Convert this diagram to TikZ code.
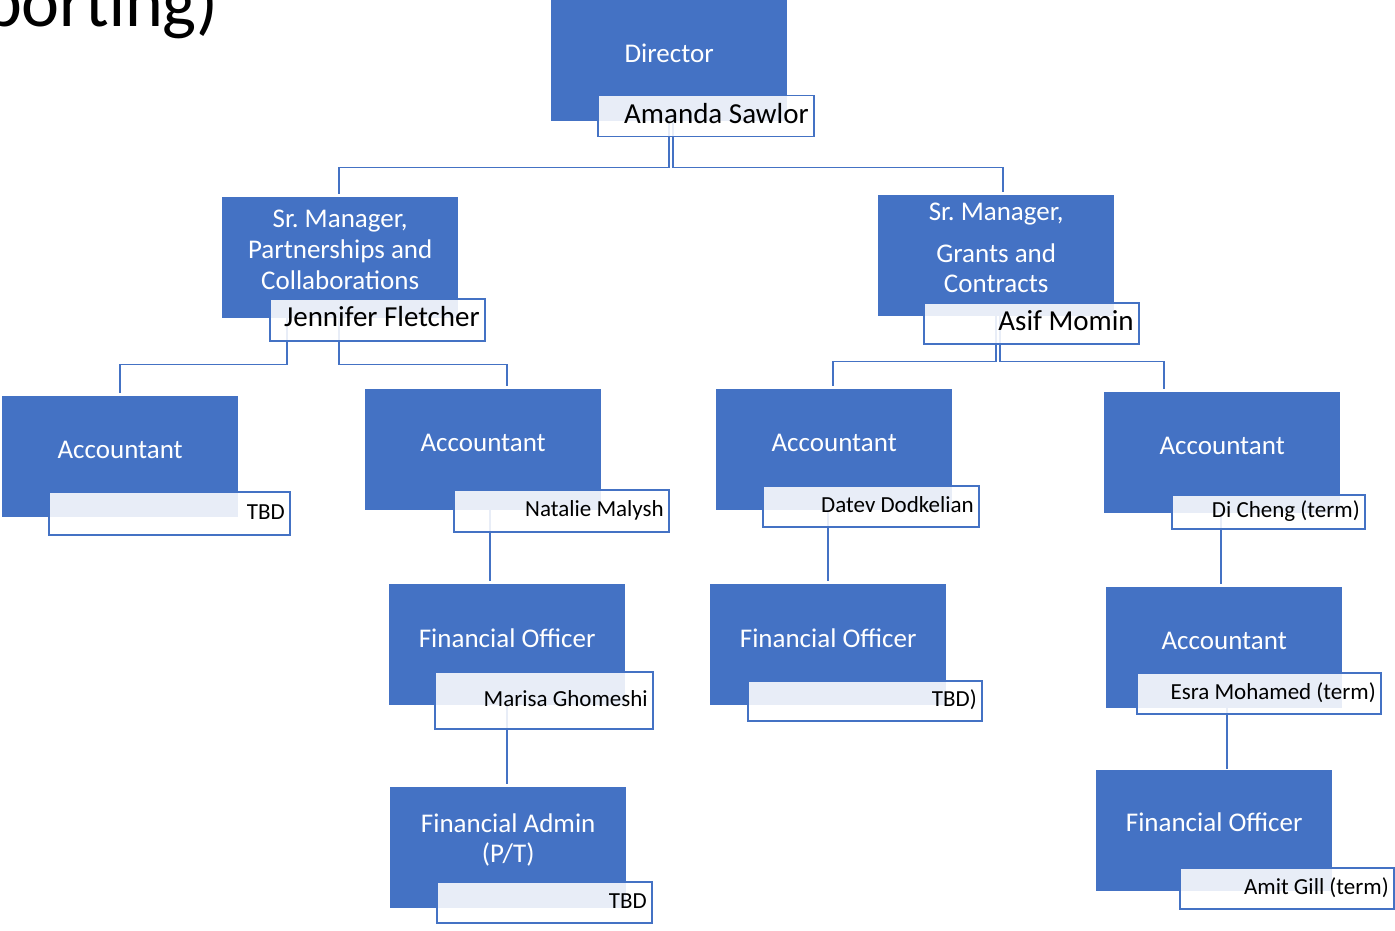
\documentclass[tikz,border=0pt]{standalone}
\usepackage{fontspec}
\setmainfont{Carlito}
\frenchspacing
\definecolor{sblue}{HTML}{4472C4}
\pgfdeclarelayer{bg}
\pgfdeclarelayer{lines}
\pgfsetlayers{bg,lines,main}
\tikzset{
  rolebox/.style={fill=sblue, draw=none, minimum width=236pt, minimum height=121pt, anchor=north west, inner sep=0pt},
  roletext/.style={text=white, font=\fontsize{27}{30}\selectfont, align=center, inner sep=0pt},
  namebox/.style={draw=sblue, line width=1.5pt, fill=white, fill opacity=0.88, text opacity=1, anchor=north west, inner xsep=5pt, inner ysep=0pt, align=flush right, text height=16pt, text depth=4pt, font=\fontsize{23}{26}\selectfont},
  bigname/.style={font=\fontsize{29}{32}\selectfont, text height=19pt, text depth=5.4pt},
  link/.style={draw=sblue, line width=1.5pt, shorten >=3pt},
}
\begin{document}
\begin{tikzpicture}[x=1pt,y=-1pt]
\begin{pgfonlayer}{bg}
\fill[white] (0,0) rectangle (1395,931);
\end{pgfonlayer}
\useasboundingbox (0,0) rectangle (1395,931);

% title fragment
\node[anchor=base west, font=\fontsize{72}{80}\selectfont, inner sep=0pt] (title) at (-16,27) {porting)};

% blue role boxes
\node[rolebox] (dir)  at (551,0) {};
\node[rolebox] (mgrL) at (222,197) {};
\node[rolebox] (mgrR) at (878,195) {};
\node[rolebox] (acc1) at (2,396) {};
\node[rolebox] (acc2) at (365,389) {};
\node[rolebox] (acc3) at (716,389) {};
\node[rolebox] (acc4) at (1104,392) {};
\node[rolebox] (fo1)  at (389,584) {};
\node[rolebox] (fo2)  at (710,584) {};
\node[rolebox] (acc5) at (1106,587) {};
\node[rolebox] (fo3)  at (1096,770) {};
\node[rolebox] (fa)   at (390,787) {};

% role texts
\node[roletext] (dirT)  at ([yshift=7pt]dir.center) {Director};
\node[roletext] (mgrLT) at ([yshift=7.5pt]mgrL.center) {Sr. Manager,\\[1pt]Partnerships and\\[1pt]Collaborations};
\node[roletext] (mgrRT) at ([yshift=7.5pt]mgrR.center) {Sr. Manager,\\[12pt]Grants and\\Contracts};
\node[roletext] (acc1T) at ([yshift=6.5pt]acc1.center) {Accountant};
\node[roletext] (acc2T) at ([yshift=6.5pt]acc2.center) {Accountant};
\node[roletext] (acc3T) at ([yshift=6.5pt]acc3.center) {Accountant};
\node[roletext] (acc4T) at ([yshift=6.5pt]acc4.center) {Accountant};
\node[roletext] (fo1T)  at ([yshift=6.5pt]fo1.center) {Financial Officer};
\node[roletext] (fo2T)  at ([yshift=6.5pt]fo2.center) {Financial Officer};
\node[roletext] (acc5T) at ([yshift=7pt]acc5.center) {Accountant};
\node[roletext] (fo3T)  at ([yshift=8pt]fo3.center) {Financial Officer};
\node[roletext] (faT)   at ([yshift=8pt]fa.center) {Financial Admin\\(P/T)};

% connectors
\coordinate (c1) at ([xshift=7pt]acc2.south);
\coordinate (c2) at ([xshift=-6pt]acc3.south);
\coordinate (c3) at ([xshift=-1pt]acc4.south);
\coordinate (c4) at (fo1.south);
\coordinate (c5) at ([xshift=3pt]acc5.south);
\begin{pgfonlayer}{lines}
\draw[link] (dir.south) -- ++(0,46) -| ([xshift=-1pt]mgrL.north);
\draw[link] ([xshift=4pt]dir.south) -- ++(0,46) -| ([xshift=7pt]mgrR.north);
\draw[link] ([xshift=-53pt]mgrL.south) -- ++(0,46) -| (acc1.north);
\draw[link] ([xshift=-1pt]mgrL.south) -- ++(0,46) -| ([xshift=24pt]acc2.north);
\draw[link] (mgrR.south) -- ++(0,45) -| ([xshift=-1pt]acc3.north);
\draw[link] ([xshift=4pt]mgrR.south) -- ++(0,45) -| ([xshift=-58pt]acc4.north);
\draw[link] (c1) -- (c1 |- fo1.north);
\draw[link] (c2) -- (c2 |- fo2.north);
\draw[link] (c3) -- (c3 |- acc5.north);
\draw[link] (c4) -- (c4 |- fa.north);
\draw[link, line width=2pt, shorten >=1pt] (c5) -- (c5 |- fo3.north);
\end{pgfonlayer}

% name boxes
\node[namebox, bigname, minimum width=216pt, minimum height=41pt, text width=206pt] (dirN)  at (597,95) {Amanda Sawlor};
\node[namebox, bigname, minimum width=215pt, minimum height=42pt, text width=205pt] (mgrLN) at (269,298) {Jennifer Fletcher};
\node[namebox, bigname, minimum width=215pt, minimum height=41pt, text width=205pt] (mgrRN) at (923,302) {Asif Momin};
\node[namebox, minimum width=241pt, minimum height=43pt, text width=231pt] (acc1N) at (48,491) {TBD};
\node[namebox, minimum width=215pt, minimum height=42pt, text width=205pt] (acc2N) at (453,489) {Natalie Malysh};
\node[namebox, minimum width=216pt, minimum height=41pt, text width=206pt] (acc3N) at (762,485) {Datev Dodkelian};
\node[namebox, minimum width=193pt, minimum height=34pt, text width=183pt] (acc4N) at (1171,494) {Di Cheng (term)};
\node[namebox, minimum width=218pt, minimum height=57pt, text width=208pt] (fo1N)  at (434,671) {Marisa Ghomeshi};
\node[namebox, minimum width=234pt, minimum height=40pt, text width=224pt] (fo2N)  at (747,680) {TBD)};
\node[namebox, minimum width=244pt, minimum height=41pt, text width=234pt] (acc5N) at (1136,672) {Esra Mohamed (term)};
\node[namebox, minimum width=214pt, minimum height=41pt, text width=204pt] (fo3N)  at (1179,867) {Amit Gill (term)};
\node[namebox, minimum width=215pt, minimum height=41pt, text width=205pt] (faN)   at (436,881) {TBD};
\end{tikzpicture}
\end{document}
